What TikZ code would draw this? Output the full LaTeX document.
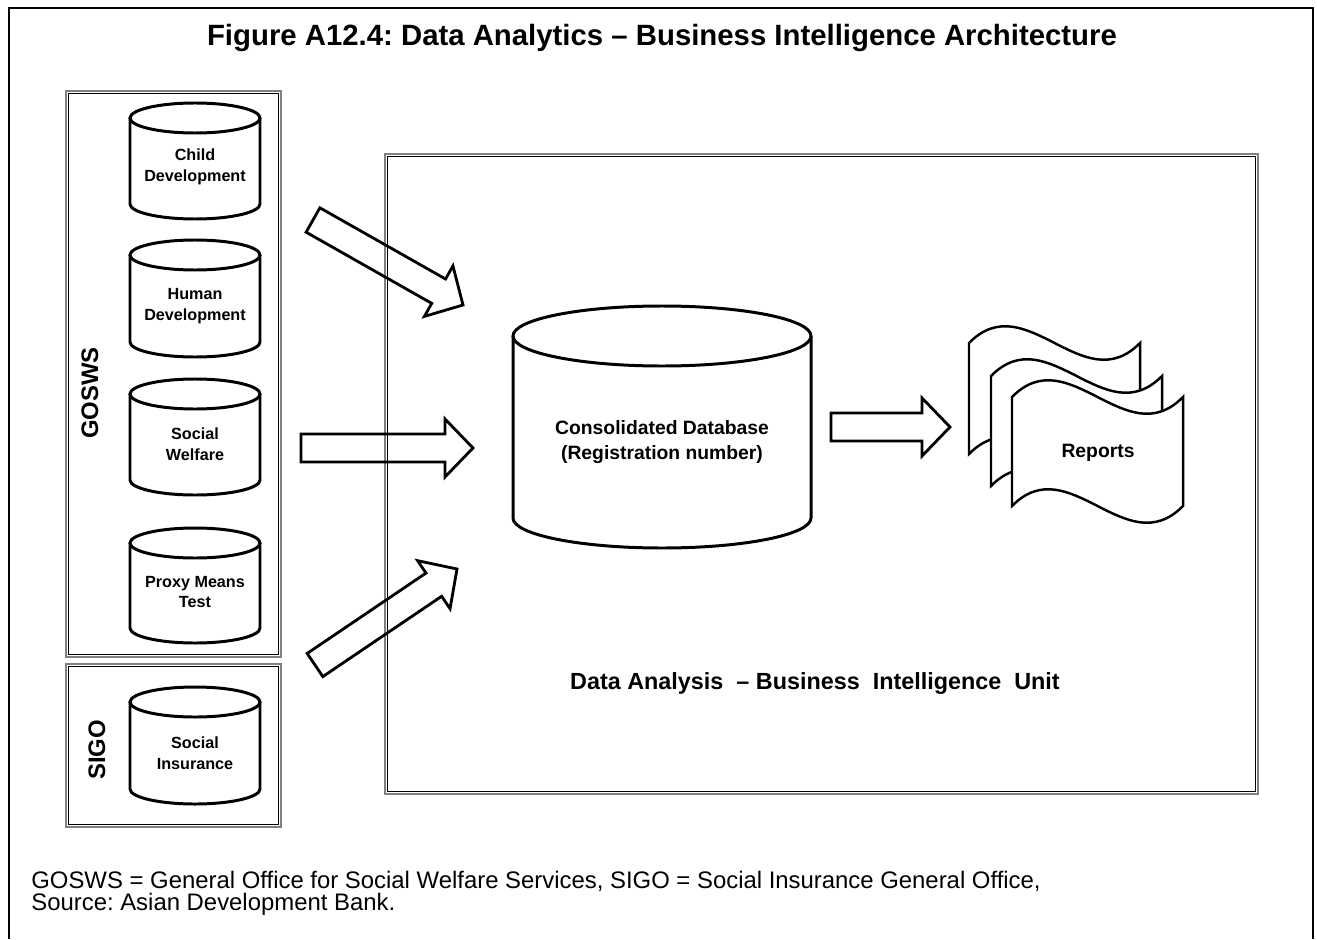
\documentclass[tikz,border=0pt]{standalone}
\usepackage{fontspec}
\setmainfont{Liberation Sans}
\usetikzlibrary{calc}
\frenchspacing

% database drum: centre x, top y, bottom y, x radius, y radius
\newcommand\drum[5]{%
  \draw[drumline,fill=white] (#1-#4,#2+#5) -- (#1-#4,#3-#5)
    arc[start angle=180,end angle=0,x radius=#4,y radius=#5] -- (#1+#4,#2+#5);
  \draw[drumline] (#1,#2+#5) ellipse[x radius=#4,y radius=#5];
}
% hollow block arrow from a tail point to a tip point
\newcommand\blockarrow[2]{%
  \coordinate (ab) at ($(#2)!0.56cm!(#1)$);
  \draw[arrowline]
    ($(#1)!0.28cm!90:(#2)$) -- ($(ab)!0.28cm!-90:(#1)$) -- ($(ab)!0.58cm!-90:(#1)$)
    -- (#2) -- ($(ab)!0.58cm!90:(#1)$) -- ($(ab)!0.28cm!90:(#1)$)
    -- ($(#1)!0.28cm!-90:(#2)$) -- cycle;
}
% wavy report sheet: left x, top y, width, height
\newcommand\sheet[4]{%
  \draw[sheetline,fill=white] (#1,#2) .. controls (#1+#3/3,#2-58) and (#1+2*#3/3,#2+58) .. (#1+#3,#2)
    -- (#1+#3,#2+#4) .. controls (#1+2*#3/3,#2+#4+58) and (#1+#3/3,#2+#4-58) .. (#1,#2+#4) -- cycle;
}
% framed panel with a grey outer and black inner rule
\newcommand\panel[4]{%
  \draw[panelouter] (#1,#2) rectangle (#3,#4);
  \draw[panelinner] (#1+2.5,#2+2.5) rectangle (#3-2.5,#4-2.5);
}

\tikzset{
  drumline/.style={line width=1.7pt},
  arrowline/.style={line width=1.6pt,line join=miter},
  sheetline/.style={line width=1.4pt},
  panelouter/.style={draw=black!50,line width=0.8pt},
  panelinner/.style={draw=black,line width=0.8pt},
  frameline/.style={line width=1.1pt},
  dblabel/.style={align=center,font=\fontsize{9.2}{11.9}\selectfont\bfseries},
  biglabel/.style={align=center,font=\fontsize{11}{14.7}\selectfont\bfseries},
  sidelabel/.style={rotate=90,font=\fontsize{13.6}{16}\selectfont\bfseries},
}

\begin{document}
\begin{tikzpicture}[x=0.02cm,y=-0.02cm]
\useasboundingbox (0,0) rectangle (1317,939);

% outer frame, open at the foot
\draw[frameline] (9,939) -- (9,8) -- (1313,8) -- (1313,939);

\node (title) at (662,38) {\fontsize{16.7}{20}\selectfont\bfseries Figure A12.4: Data Analytics – Business Intelligence Architecture};

% source panels
\panel{66}{91}{281}{657}
\panel{66}{664}{281}{827}
\node[sidelabel] (goswslbl) at (90,393) {GOSWS};
\node[sidelabel] (sigolbl) at (97,750) {SIGO};

\drum{195}{103}{219}{65}{15}
\drum{195}{240}{357}{65}{15}
\drum{195}{379}{495}{65}{15}
\drum{195}{528}{643}{65}{15}
\drum{195}{687}{804}{65}{15}
\node[dblabel] (child) at (195,167) {Child\\Development};
\node[dblabel] (human) at (195,306) {Human\\Development};
\node[dblabel] (welfare) at (195,444) {Social\\Welfare};
\node[dblabel] (proxy) at (195,592) {Proxy Means\\Test};
\node[dblabel] (insurance) at (195,753) {Social\\Insurance};

% business intelligence unit
\panel{385}{154}{1258}{794}
\drum{662}{306}{548}{149}{30}
\node[biglabel] (consdb) at (662,442) {Consolidated Database\\(Registration number)};

\sheet{969}{343}{171}{111}
\sheet{991}{376}{171}{110}
\sheet{1012}{397}{171}{109}
\node[font=\fontsize{11}{13}\selectfont\bfseries] (reports) at (1098,453) {Reports};

\node[font=\fontsize{13.3}{15}\selectfont\bfseries] (unit) at (815,684) {Data Analysis~~– Business~~Intelligence~~Unit};

% flows
\coordinate (a1t) at (313,220); \coordinate (a1h) at (463,305);
\coordinate (a2t) at (301,448); \coordinate (a2h) at (473,448);
\coordinate (a3t) at (315,665); \coordinate (a3h) at (457,569);
\coordinate (a4t) at (831,427); \coordinate (a4h) at (950,427);
\blockarrow{a1t}{a1h}
\blockarrow{a2t}{a2h}
\blockarrow{a3t}{a3h}
\blockarrow{a4t}{a4h}

% note
\node[anchor=west,align=left,font=\fontsize{13.6}{12.6}\selectfont,inner sep=0pt] (note) at (31,893)
  {GOSWS = General Office for Social Welfare Services, SIGO = Social Insurance General Office,\\Source: Asian Development Bank.};
\end{tikzpicture}
\end{document}
